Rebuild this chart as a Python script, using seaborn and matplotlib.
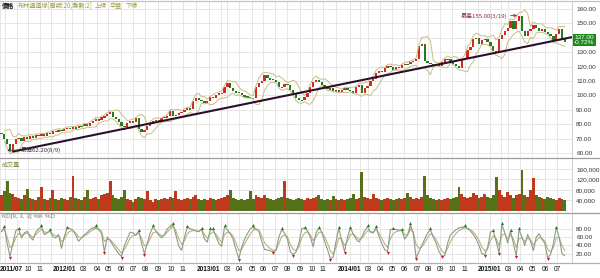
import numpy as np
import pandas as pd
import matplotlib
matplotlib.use("Agg")
import matplotlib.pyplot as plt
import seaborn as sns
from matplotlib.lines import Line2D

# ---------------- data (weekly samples) ----------------
close = [
    73.5, 70, 66, 62.2, 66, 69.5, 70.5, 68.5, 71, 70,
    72, 70.5, 72.5, 71.5, 73, 72, 74, 73, 75.5, 74.5,
    76, 75, 76.5, 77.5, 76.5, 78, 77.5, 79, 78.5, 80,
    79, 81, 82.5, 83.5, 83, 85, 85.5, 87, 88.5, 85,
    83.5, 81.5, 79, 78, 80.5, 82, 81.5, 84, 77, 74.5,
    76, 78.5, 80, 82, 83, 82.5, 84, 85, 85.5, 89.5,
    86, 86.5, 88, 88.5, 90, 91, 90.5, 96, 98.5, 97,
    96, 95, 96, 99, 98.5, 100.5, 101.5, 102, 106, 108.5,
    105, 103, 102.5, 101.5, 100, 99.5, 99, 98.5, 98, 106,
    108.5, 110, 114.5, 112, 111.5, 110.5, 109.5, 106, 105.5, 108,
    107.5, 104, 101.5, 98.5, 97, 96.5, 99, 102, 106, 109,
    110.5, 109, 107.5, 106, 104.5, 105, 103, 103.5, 102.5, 104,
    105, 104, 103, 102, 105.5, 107, 101.5, 105, 106.5, 110,
    111.5, 115.5, 117, 116.5, 119, 120.5, 119.5, 118, 120, 119,
    121, 122, 121.5, 123.5, 124, 125, 134, 136, 124, 122.5,
    121.5, 121, 122, 120.5, 123, 125, 125.5, 124, 122, 120.5,
    119, 124.5, 126, 131.5, 133.5, 139, 140, 136, 138.5, 139.5,
    137, 134.5, 131, 130.5, 139, 142, 145, 147, 151.5, 146,
    152, 155, 145, 141, 144.5, 146, 149, 147, 145, 146,
    144, 143, 141, 137.5, 142.5, 146, 139, 137,
]

volume_k = [  # thousands of shares
    60, 75, 115, 70, 65, 55, 50, 45, 60, 85,
    50, 45, 40, 55, 90, 45, 40, 50, 80, 45,
    40, 50, 45, 40, 55, 135, 50, 45, 40, 55,
    80, 45, 50, 55, 45, 60, 65, 70, 115, 60,
    50, 45, 55, 80, 45, 40, 35, 45, 55, 50,
    45, 75, 40, 35, 45, 40, 45, 50, 45, 55,
    50, 75, 45, 40, 45, 50, 45, 55, 60, 45,
    40, 45, 40, 50, 45, 40, 45, 50, 55, 60,
    80, 50, 45, 40, 45, 40, 45, 75, 45, 60,
    55, 50, 60, 50, 45, 40, 45, 50, 55, 115,
    50, 45, 40, 45, 50, 45, 40, 50, 45, 50,
    55, 60, 45, 40, 45, 40, 57, 45, 40, 45,
    40, 45, 50, 63, 45, 50, 147, 55, 50, 45,
    66, 50, 45, 40, 45, 50, 45, 40, 45, 50,
    45, 50, 70, 55, 45, 50, 45, 55, 135, 60,
    50, 45, 40, 45, 40, 45, 50, 45, 50, 55,
    90, 65, 55, 50, 55, 70, 60, 50, 55, 65,
    55, 50, 60, 128, 80, 60, 55, 72, 60, 50,
    60, 65, 155, 60, 55, 80, 124, 60, 55, 50,
    45, 55, 50, 45, 40, 50, 45, 40,
]

k_line = [
    73, 84, 45, 13, 45, 75, 80, 58, 70, 74,
    60, 53, 72, 80, 85, 66, 70, 76, 60, 58,
    66, 33, 62, 82, 81, 76, 65, 50, 58, 66,
    71, 79, 82, 85, 78, 69, 25, 60, 52, 40,
    30, 20, 13, 40, 56, 72, 70, 65, 75, 45,
    20, 45, 70, 85, 75, 65, 58, 66, 80, 86,
    92, 65, 38, 28, 60, 84, 80, 78, 75, 73,
    80, 55, 48, 78, 78, 62, 45, 38, 85, 78,
    68, 55, 30, 8, 35, 55, 68, 80, 85, 80,
    75, 50, 30, 29, 27, 25, 28, 60, 78, 70,
    55, 25, 18, 24, 45, 80, 82, 75, 60, 37,
    70, 82, 72, 50, 30, 8, 12, 50, 82, 50,
    25, 60, 82, 68, 55, 48, 60, 75, 85, 72,
    70, 84, 62, 45, 30, 25, 78, 80, 78, 77,
    77, 55, 65, 90, 68, 10, 25, 40, 55, 70,
    78, 60, 45, 25, 14, 15, 45, 65, 72, 78,
    82, 84, 85, 80, 75, 66, 55, 40, 20, 18,
    35, 72, 75, 50, 22, 90, 70, 46, 75, 45,
    15, 78, 60, 40, 66, 50, 28, 60, 68, 55,
    45, 10, 18, 45, 82, 60, 20, 15,
]

change_pct = -0.72
trend_weeks = [4, 199.5]
trend_values = [61.0, 140.5]

month_labels = ["2011/07", "", "", "10", "11", "", "2012/01", "", "03", "04", "05", "06",
                "07", "08", "09", "10", "11", "", "2013/01", "", "03", "04", "05", "06",
                "07", "08", "09", "10", "11", "", "2014/01", "", "03", "04", "05", "06",
                "07", "08", "09", "10", "11", "", "2015/01", "", "03", "04", "05", "06", "07"]
month_px = [0, 5, 17, 28, 40, 51, 65, 72, 83, 97, 108, 121,
            133, 145, 158, 171, 183, 196, 209, 221, 227, 239, 252, 263,
            275, 287, 300, 312, 323, 336, 350, 360, 368, 380, 392, 404,
            417, 428, 440, 452, 465, 478, 490, 501, 508, 520, 532, 545, 557]

# ---------------- style ----------------
sns.set_style("white")
plt.rcParams["font.family"] = ["Noto Sans CJK TC", "DejaVu Sans"]
plt.rcParams["axes.unicode_minus"] = False
NUMFONT = "Liberation Sans"

W, H = 600, 278
fig = plt.figure(figsize=(6, 2.78), dpi=100)


def axes_px(x0, y0, x1, y1):
    return fig.add_axes([x0 / W, 1 - y1 / H, (x1 - x0) / W, (y1 - y0) / H])


ax_p = axes_px(0, 1, 572, 157)
ax_v = axes_px(0, 159, 572, 211)
ax_k = axes_px(0, 214, 572, 262)

close = np.array(close, dtype=float)
N = len(close)
x = np.arange(N)
opens = np.r_[close[0], close[:-1]]
up = close >= opens
UP, DN = "#d42a1e", "#257a1c"
cols = np.where(up, UP, DN)

XL = (-0.5, 199.5)
px_per_unit = 572 / (XL[1] - XL[0])
tick_pos = [p / px_per_unit + XL[0] for p in month_px]

GRID = "#e2e2e2"
for ax in (ax_p, ax_v, ax_k):
    ax.set_xlim(*XL)
    ax.set_xticks(tick_pos)
    ax.grid(True, color=GRID, lw=0.6)
    ax.set_axisbelow(True)
    ax.yaxis.tick_right()
    ax.tick_params(axis="both", length=0, labelsize=4.6, labelcolor="#333333", pad=3)
    for s in ("left", "top", "bottom"):
        ax.spines[s].set_visible(False)
    ax.spines["right"].set_color("#cfcfcf")
    ax.spines["right"].set_linewidth(0.7)
ax_p.tick_params(labelbottom=False)
ax_v.tick_params(labelbottom=False)

# ---------------- price panel ----------------
body_lo = np.minimum(opens, close)
body_h = np.maximum(np.abs(close - opens), 1.0)
ax_p.bar(x, body_h, bottom=body_lo - np.where(np.abs(close - opens) < 1.0, 0.5, 0),
         width=0.8, color=cols, lw=0)

s = pd.Series(close)
mid = s.rolling(4, min_periods=2).mean()
sd = s.rolling(4, min_periods=2).std(ddof=0)
band = pd.DataFrame({"x": x, "upper": mid + 2 * sd, "lower": mid - 2 * sd})
sns.lineplot(data=band, x="x", y="upper", ax=ax_p, color="#c9bc84", lw=0.7, legend=False)
sns.lineplot(data=band, x="x", y="lower", ax=ax_p, color="#c9bc84", lw=0.7, legend=False)

ax_p.plot(trend_weeks, trend_values, color="#2b0e2a", lw=1.5, solid_capstyle="round")

pt = np.arange(60, 161, 10)
ax_p.set_ylim(57.2, 165.6)
ax_p.set_yticks(pt)
ax_p.set_yticklabels(["" if v == 140 else f"{v:.2f}" for v in pt], fontfamily=NUMFONT)

imax = int(np.argmax(close))
ax_p.annotate(f"最高{close[imax]:.2f}(3/19)", xy=(imax - 0.7, close[imax] + 0.5),
              xytext=(-7, 0), textcoords="offset points", ha="right", va="center",
              fontsize=4.3, color="#8c2a3c",
              arrowprops=dict(arrowstyle="->", color="#8c2a3c", lw=0.6, shrinkA=0, shrinkB=0))
imin = int(np.argmin(close))
ax_p.annotate(f"最低{close[imin]:.2f}(8/9)", xy=(imin - 1.0, close[imin] - 0.3),
              xytext=(9.5, 0), textcoords="offset points", ha="left", va="center",
              fontsize=4.3, color="#333333",
              arrowprops=dict(arrowstyle="->", color="#333333", lw=0.6, shrinkA=0, shrinkB=0))

ax_p.annotate(f"{close[-1]:.2f}\n{change_pct:.2f}%", xy=(1, close[-1]),
              xycoords=("axes fraction", "data"), xytext=(1.5, 1.5), textcoords="offset points",
              ha="left", va="center", fontsize=4.6, color="white", linespacing=1.05,
              fontfamily=NUMFONT,
              bbox=dict(boxstyle="square,pad=0.2", fc="#1d8a1d", ec="none"))

# ---------------- volume panel ----------------
vol = np.array(volume_k, dtype=float) * 1000
vcols = np.where(up, "#bf3a1d", "#557219")
ax_v.bar(x, vol, width=1.0, color=vcols, lw=0)
ax_v.set_ylim(0, 198000)
vt = [40000, 80000, 120000, 160000]
ax_v.set_yticks(vt)
ax_v.set_yticklabels([f"{v:,.0f}" for v in vt], fontfamily=NUMFONT)

# ---------------- KD panel ----------------
K = pd.Series(np.array(k_line, dtype=float))
D = K.ewm(alpha=0.5).mean()
kd = pd.DataFrame({"x": x, "K": K, "D": D})
ax_k.fill_between(x, K, D, where=(K >= 80) & (D >= 76), color="#f0a49c", lw=0, interpolate=True)
sns.lineplot(data=kd, x="x", y="D", ax=ax_k, color="#b8b380", lw=0.8, legend=False)
sns.lineplot(data=kd, x="x", y="K", ax=ax_k, color="#8f9a84", lw=0.8, legend=False)
kv = K.values
pk = [i for i in range(1, N - 1) if kv[i] >= kv[i - 1] and kv[i] >= kv[i + 1] and kv[i] >= 75]
tr = [i for i in range(1, N - 1) if kv[i] <= kv[i - 1] and kv[i] <= kv[i + 1] and kv[i] <= 25]
ax_k.scatter(pk, kv[pk] + 3, marker="^", s=5, color="#1f7f1f", lw=0, zorder=5)
ax_k.scatter(tr, kv[tr] - 3, marker="v", s=5, color="#c81e1e", lw=0, zorder=5)
ax_k.set_ylim(0, 115.7)
kt = [20, 40, 60, 80]
ax_k.set_yticks(kt)
ax_k.set_yticklabels([f"{v:.2f}" for v in kt], fontfamily=NUMFONT)

for ax in (ax_p, ax_v, ax_k):
    ax.set_xlabel("")
    ax.set_ylabel("")

ax_k.set_xticklabels(month_labels, fontfamily=NUMFONT)
ax_k.tick_params(axis="x", labelsize=4.7, labelcolor="#111111", pad=3)
for lab, txt in zip(ax_k.get_xticklabels(), month_labels):
    if "/" in txt:
        lab.set_fontweight("bold")
ax_k.get_xticklabels()[0].set_ha("left")

# ---------------- separators & titles ----------------
for yy, c in ((0.5, "#c4c4c4"), (158, "#9a9a9a"), (212.5, "#9a9a9a"), (262.5, "#b0b0b0")):
    fig.add_artist(Line2D([0, 1], [1 - yy / H] * 2, color=c, lw=0.9, transform=fig.transFigure))

fs = 4.4
fig.text(2 / W, 1 - 5.5 / H, "價格", fontsize=fs, color="#111111", fontweight="bold", va="center")
fig.text(18 / W, 1 - 5.5 / H, "布林通道線[周期:20,乘數:2]", fontsize=fs, color="#a19e45", va="center")
fig.text(95 / W, 1 - 5.5 / H, "上緣", fontsize=fs, color="#b79c45", va="center")
fig.text(110 / W, 1 - 5.5 / H, "平盤", fontsize=fs, color="#a19e45", va="center")
fig.text(126 / W, 1 - 5.5 / H, "下緣", fontsize=fs, color="#a19e45", va="center")
fig.text(2 / W, 1 - 164.5 / H, "成交量", fontsize=fs, color="#8a8a50", va="center")
fig.text(2 / W, 1 - 216.5 / H, "KD[9, 3, 3] %K %D", fontsize=4.5, color="#777777", va="center",
         fontfamily=NUMFONT)

fig.savefig("out.png", dpi=100)
